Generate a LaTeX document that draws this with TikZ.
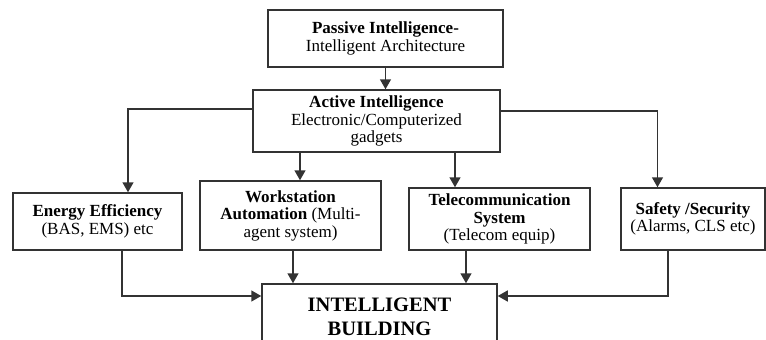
\documentclass[tikz,border=0pt]{standalone}
\usepackage{fontspec}
\setmainfont{Liberation Serif}
\usetikzlibrary{arrows.meta}

\tikzset{
    box/.style={draw=black!80, line width=1.5pt, align=center, inner sep=2pt,
        font=\fontsize{17}{17.5}\selectfont},
    arr/.style={draw=black!80, line width=1.5pt, -{Triangle[length=10pt,width=11pt]}}
}

\begin{document}
\begin{tikzpicture}[x=1pt,y=-1pt]

    % Fix the frame to the size of the original figure
    \useasboundingbox (0,0) rectangle (766,340);
    \clip (0,0) rectangle (766,340);

    % Top two levels
    \node[box, minimum width=235, minimum height=57] (passive) at (385.5,38.5)
        {\textbf{Passive Intelligence-}\\Intelligent Architecture};
    \node[box, minimum width=247, minimum height=62] (active) at (376.5,121)
        {\textbf{Active Intelligence}\\Electronic/Computerized\\gadgets};

    % The four systems
    \node[box, minimum width=169, minimum height=57] (energy) at (97.5,221.5)
        {\textbf{Energy Efficiency}\\(BAS, EMS) etc};
    \node[box, minimum width=181, minimum height=69] (workstation) at (290.5,215.5)
        {\textbf{Workstation}\\\textbf{Automation} (Multi-\\agent system)};
    \node[box, minimum width=181, minimum height=62] (telecom) at (499.5,219)
        {\textbf{Telecommunication}\\\textbf{System}\\(Telecom equip)};
    \node[box, minimum width=144, minimum height=62] (safety) at (693,219)
        {\textbf{Safety /Security}\\(Alarms, CLS etc)};

    % The building, cut off at the bottom edge
    \node[box, minimum width=235, minimum height=66,
        font=\fontsize{20.5}{24}\selectfont\bfseries] (building) at (379.5,317)
        {INTELLIGENT\\BUILDING};

    % Points where the arrows leave or reach the boxes
    \coordinate (wsin) at ([xshift=9.5pt]workstation.north);
    \coordinate (tcin) at ([xshift=-44.5pt]telecom.north);
    \coordinate (enout) at ([xshift=24.5pt]energy.south);
    \coordinate (wsout) at ([xshift=2.5pt]workstation.south);
    \coordinate (tcout) at ([xshift=-33.5pt]telecom.south);
    \coordinate (sfout) at ([xshift=-25pt]safety.south);

    % Arrows from the top
    \draw[arr] (passive.south) -- (passive.south |- active.north);
    \draw[arr] ([yshift=12pt]active.west) -| ([xshift=30.5pt]energy.north);
    \draw[arr] ([yshift=10pt]active.east) -| ([xshift=-35.5pt]safety.north);
    \draw[arr] (wsin |- active.south) -- (wsin);
    \draw[arr] (tcin |- active.south) -- (tcin);

    % Arrows into the building
    \draw[arr] (enout) |- ([yshift=21pt]building.west);
    \draw[arr] (wsout) -- (wsout |- building.north);
    \draw[arr] (tcout) -- (tcout |- building.north);
    \draw[arr] (sfout) |- ([yshift=21pt]building.east);

\end{tikzpicture}
\end{document}
